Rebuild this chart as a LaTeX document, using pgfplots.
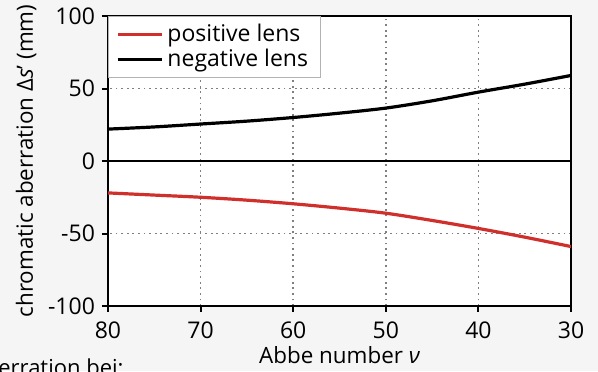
\documentclass[border=0pt]{standalone}
\usepackage{pgfplots}
\pgfplotsset{compat=1.18}
\usepackage{fontspec}
\setmainfont{Open Sans}
\definecolor{redl}{HTML}{D0302C}
\definecolor{bg}{HTML}{F5F5F5}
\begin{document}
\begin{tikzpicture}
\fill[bg] (0,0) rectangle (299pt,185.5pt);
\useasboundingbox (0,0) rectangle (299pt,185.5pt);
\node[anchor=base west, inner sep=0pt, font=\fontsize{11}{12}\selectfont] at (-1pt,-2pt) {erration bei:};
\begin{axis}[
  at={(54pt,32.5pt)}, anchor=south west,
  scale only axis, width=231.5pt, height=145pt,
  x dir=reverse,
  xmin=30, xmax=80, ymin=-100, ymax=100,
  xtick={30,40,50,60,70,80},
  ytick={-100,-50,0,50,100},
  tick align=outside,
  major tick length=3pt,
  axis line style={line width=1.3pt},
  tick style={black, line width=1pt},
  xtick pos=bottom, ytick pos=left,
  grid=major,
  grid style={gray, line width=0.9pt, dash pattern=on 0.9pt off 1.9pt},
  axis background/.style={fill=white},
  ticklabel style={font=\fontsize{11.5}{13}\selectfont},
  xticklabel style={yshift=-1.5pt},
  /pgf/number format/assume math mode=true,
  label style={font=\fontsize{11.2}{13}\selectfont},
  xlabel={Abbe number {\itshape ν}},
  ylabel={chromatic aberration Δ{\itshape s}’ (mm)},
  xlabel style={yshift=3pt},
  ylabel style={yshift=-1pt},
  legend style={at={(0,1)}, anchor=north west, draw=gray!60, line width=0.5pt, fill=white,
    font=\fontsize{11.5}{13}\selectfont, row sep=-2pt, inner xsep=4pt, inner ysep=2pt},
  legend cell align=left,
  legend image code/.code={\draw[#1, line width=1.5pt] (0pt,0pt) -- (22pt,0pt);},
]
\addplot[black, line width=1.2pt, forget plot] coordinates {(30,0) (80,0)};
\addplot[redl, line width=1.6pt, smooth] coordinates {
(80,-22) (75,-23.5) (70,-25) (65,-27) (60,-29.5) (55,-32.5) (50,-36) (45,-41) (40,-46.5) (35,-52.5) (30,-59)};
\addlegendentry{positive lens}
\addplot[black, line width=1.6pt, smooth] coordinates {
(80,22) (75,23.5) (70,25.5) (65,27.5) (60,30) (55,33) (50,36.5) (45,41.5) (40,47.5) (35,53) (30,59)};
\addlegendentry{negative lens}
\end{axis}
\end{tikzpicture}
\end{document}
